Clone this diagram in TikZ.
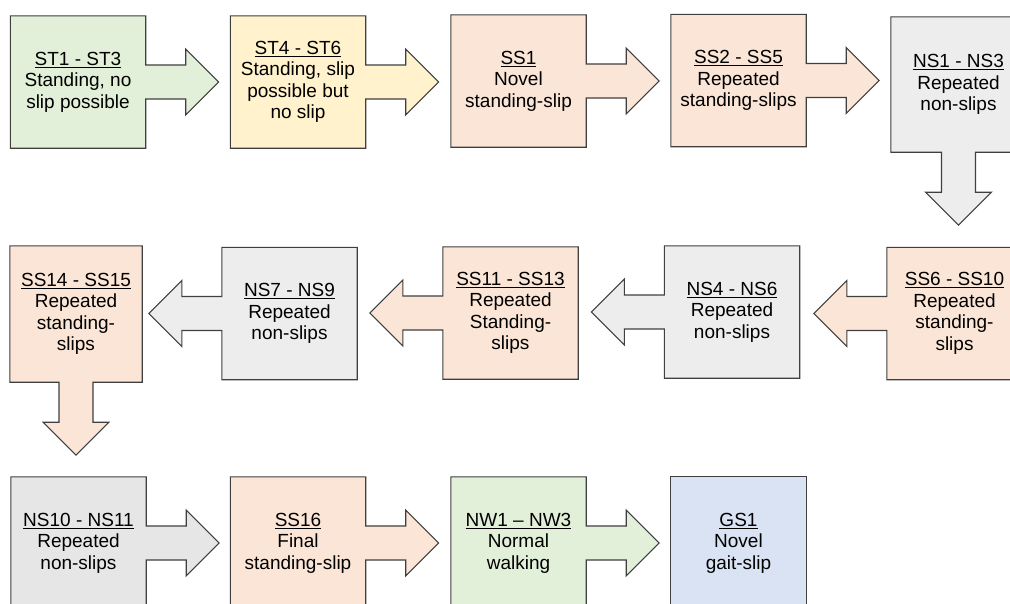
\documentclass[tikz,border=0pt]{standalone}
\usepackage{fontspec}
\setmainfont{Liberation Sans}
\usetikzlibrary{calc,backgrounds}

\definecolor{edge}{HTML}{3F3F3F}
\definecolor{fgreen}{HTML}{E2F0D9}
\definecolor{fyellow}{HTML}{FFF2CC}
\definecolor{fpink}{HTML}{FBE5D6}
\definecolor{fgrey}{HTML}{EDEDED}
\definecolor{fgreydark}{HTML}{E6E6E6}
\definecolor{fblue}{HTML}{DAE3F3}

\tikzset{
  stage/.style={rectangle, minimum width=135pt, minimum height=132pt,
    inner sep=0pt, align=center, text=black,
    font=\fontsize{19}{21.5}\selectfont},
  outline/.style={draw=edge, line width=1.1pt, line join=miter},
}

% block shapes: a box with its block arrow merged into one outline
\newcommand{\boxright}[2]{%
  \path[outline, fill=#2] (#1.north west) -- (#1.north east)
    -- ([yshift=17pt]#1.east) -- ++(40pt,0pt) -- ++(0pt,16pt)
    -- ++(33pt,-33pt) -- ++(-33pt,-33pt) -- ++(0pt,16pt)
    -- ([yshift=-17pt]#1.east) -- (#1.south east) -- (#1.south west) -- cycle;}
\newcommand{\boxleft}[2]{%
  \path[outline, fill=#2] (#1.north west) -- (#1.north east)
    -- (#1.south east) -- (#1.south west)
    -- ([yshift=-17pt]#1.west) -- ++(-40pt,0pt) -- ++(0pt,-16pt)
    -- ++(-33pt,33pt) -- ++(33pt,33pt) -- ++(0pt,-16pt)
    -- ([yshift=17pt]#1.west) -- cycle;}
\newcommand{\boxdown}[2]{%
  \path[outline, fill=#2] (#1.north west) -- (#1.north east)
    -- (#1.south east) -- ([xshift=17pt]#1.south) -- ++(0pt,-40pt)
    -- ++(16pt,0pt) -- ++(-33pt,-33pt) -- ++(-33pt,33pt) -- ++(16pt,0pt)
    -- ([xshift=-17pt]#1.south) -- (#1.south west) -- cycle;}
\newcommand{\boxplain}[2]{%
  \path[outline, fill=#2] (#1.north west) rectangle (#1.south east);}

\begin{document}
\begin{tikzpicture}[x=1pt, y=-1pt]
\useasboundingbox (0,0) rectangle (1010,603);

% row 1
\node[stage] (st1) at (78,82) {\underline{ST1 - ST3}\\Standing, no\\slip possible};
\node[stage] (st4) at (298,82) {\underline{ST4 - ST6}\\Standing, slip\\possible but\\no slip};
\node[stage] (ss1) at (518.5,81) {\underline{SS1}\\Novel\\standing-slip};
\node[stage] (ss2) at (738.5,80.5) {\underline{SS2 - SS5}\\Repeated\\standing-slips};
\node[stage, minimum height=135pt] (ns1) at (958.5,84.5) {\underline{NS1 - NS3}\\Repeated\\non-slips};

% row 2
\node[stage] (ss6) at (954.5,313.5) {\underline{SS6 - SS10}\\Repeated\\standing-\\slips};
\node[stage] (ns4) at (732,312) {\underline{NS4 - NS6}\\Repeated\\non-slips};
\node[stage] (ss11) at (510.5,313) {\underline{SS11 - SS13}\\Repeated\\Standing-\\slips};
\node[stage] (ns7) at (289.5,313.5) {\underline{NS7 - NS9}\\Repeated\\non-slips};
\node[stage, minimum width=132pt, minimum height=136pt] (ss14) at (76,314) {\underline{SS14 - SS15}\\Repeated\\standing-\\slips};

% row 3
\node[stage] (ns10) at (78.5,543) {\underline{NS10 - NS11}\\Repeated\\non-slips};
\node[stage] (ss16) at (298,543) {\underline{SS16}\\Final\\standing-slip};
\node[stage] (nw1) at (518.5,543) {\underline{NW1 – NW3}\\Normal\\walking};
\node[stage] (gs1) at (738.5,543) {\underline{GS1}\\Novel\\gait-slip};

\begin{scope}[on background layer]
  \clip (0,0) rectangle (1010,603);
  \boxright{st1}{fgreen}
  \boxright{st4}{fyellow}
  \boxright{ss1}{fpink}
  \boxright{ss2}{fpink}
  \boxdown{ns1}{fgrey}
  \boxleft{ss6}{fpink}
  \boxleft{ns4}{fgrey}
  \boxleft{ss11}{fpink}
  \boxleft{ns7}{fgrey}
  \boxdown{ss14}{fpink}
  \boxright{ns10}{fgreydark}
  \boxright{ss16}{fpink}
  \boxright{nw1}{fgreen}
  \boxplain{gs1}{fblue}
\end{scope}
\end{tikzpicture}
\end{document}
